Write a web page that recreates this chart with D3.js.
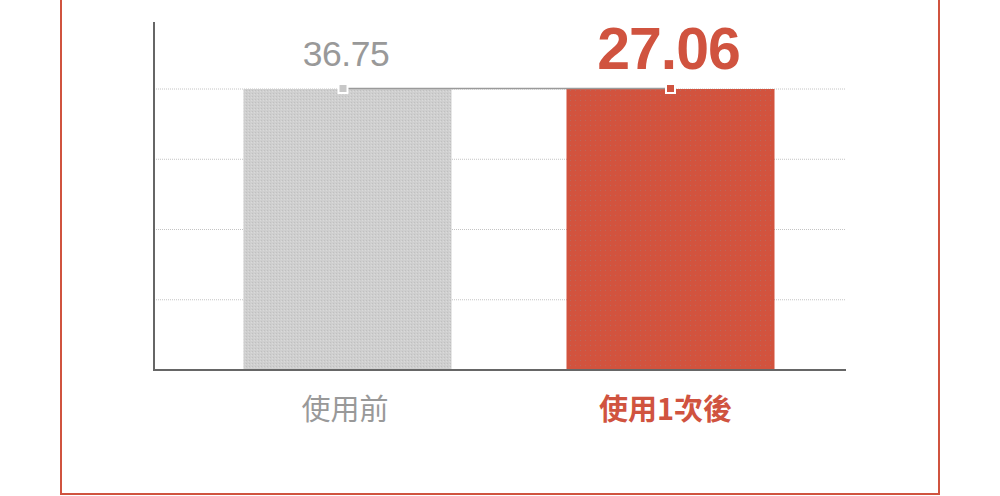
<!DOCTYPE html>
<html><head><meta charset="utf-8">
<script src="https://cdn.jsdelivr.net/npm/d3@7/dist/d3.min.js"></script>
<style>body{margin:0;background:#fff;}svg{display:block;}</style>
</head><body>
<svg id="c" width="1000" height="496"></svg>
<script>
const categories = ["使用前", "使用1次後"];
const valueLabels = ["36.75", "27.06"];
const barLevels = [40, 40];
const gridTicks = [10, 20, 30, 40];
const yMax = 49.54;

const RED = "#d0533f", GRAY_TXT = "#999999";
const svg = d3.select("#c");

const defs = svg.append("defs");
const pg = defs.append("pattern").attr("id","pg").attr("width",3).attr("height",3).attr("patternUnits","userSpaceOnUse");
pg.append("rect").attr("width",3).attr("height",3).attr("fill","#cfcfcf");
pg.append("rect").attr("x",0).attr("y",0).attr("width",1).attr("height",1).attr("fill","#c0c0c0");
pg.append("rect").attr("x",2).attr("y",1).attr("width",1).attr("height",1).attr("fill","#dadada");
const pr = defs.append("pattern").attr("id","pr").attr("width",5).attr("height",5).attr("patternUnits","userSpaceOnUse");
pr.append("rect").attr("width",5).attr("height",5).attr("fill","#d2533e");
pr.append("rect").attr("x",0).attr("y",0).attr("width",1).attr("height",1).attr("fill","#b9685c");

// frame
svg.append("rect").attr("x",61).attr("y",-10).attr("width",878).attr("height",504)
  .attr("fill","none").attr("stroke",RED).attr("stroke-width",2);

const x = d3.scaleBand().domain(categories).range([128.5, 889.5]).paddingInner(0.356).paddingOuter(0.356);
const y = d3.scaleLinear().domain([0, yMax]).range([370, 22]);
const axL = 154, axR = 846;

// gridlines
svg.append("g").selectAll("line").data(gridTicks).join("line")
  .attr("x1", axL).attr("x2", axR).attr("y1", d => y(d)).attr("y2", d => y(d))
  .attr("stroke", "#c4c4c4").attr("stroke-width", 1).attr("stroke-dasharray", "1,1");

// bars
const fills = ["url(#pg)", "url(#pr)"];
svg.append("g").selectAll("rect").data(categories).join("rect")
  .attr("x", d => x(d)).attr("width", x.bandwidth())
  .attr("y", (d,i) => y(barLevels[i])).attr("height", (d,i) => y(0) - y(barLevels[i]))
  .attr("fill", (d,i) => fills[i]);

// axes
svg.append("line").attr("x1", axL).attr("x2", axL).attr("y1", y(yMax)).attr("y2", y(0)+1)
  .attr("stroke", "#666").attr("stroke-width", 2);
svg.append("line").attr("x1", axL-1).attr("x2", axR).attr("y1", y(0)).attr("y2", y(0))
  .attr("stroke", "#666").attr("stroke-width", 2);

// connecting line + markers
const cx = d => x(d) + x.bandwidth()/2 - [4.5,0][categories.indexOf(d)];
const line = d3.line().x((d,i) => cx(categories[i])).y(d => y(d) - 0.5);
svg.append("path").datum(barLevels).attr("d", line).attr("fill","none")
  .attr("stroke","#9a9a9a").attr("stroke-width",1.5);
const mk = ["#c8c8c8", RED];
svg.append("g").selectAll("rect").data(categories).join("rect")
  .attr("x", d => cx(d) - 4.5).attr("y", (d,i) => y(barLevels[i]) - 5)
  .attr("width", 9).attr("height", 9)
  .attr("fill", (d,i) => mk[i]).attr("stroke", "#fff").attr("stroke-width", 2);

// value labels
svg.append("text").attr("x", cx(categories[0]) + 3).attr("y", 66)
  .attr("text-anchor","middle").attr("font-family","Liberation Sans, Arial, sans-serif")
  .attr("font-size", 35.5).attr("fill", GRAY_TXT).attr("letter-spacing", -0.5).text(valueLabels[0]);
svg.append("text").attr("x", cx(categories[1]) - 2).attr("y", 69)
  .attr("text-anchor","middle").attr("font-family","Liberation Sans, Arial, sans-serif")
  .attr("font-weight","bold").attr("font-size", 59).attr("fill", RED).attr("letter-spacing", -1).text(valueLabels[1]);

// category labels
svg.append("text").attr("x", cx(categories[0]) + 2).attr("y", 420)
  .attr("text-anchor","middle").attr("font-family","Noto Sans CJK TC, Noto Sans CJK SC, sans-serif")
  .attr("font-size", 29).attr("fill", GRAY_TXT).text(categories[0]);
svg.append("text").attr("x", cx(categories[1]) - 5).attr("y", 420)
  .attr("text-anchor","middle").attr("font-family","Noto Sans CJK TC, Noto Sans CJK SC, sans-serif")
  .attr("font-weight","bold").attr("font-size", 29).attr("fill", RED).text(categories[1]);
</script>
</body></html>
